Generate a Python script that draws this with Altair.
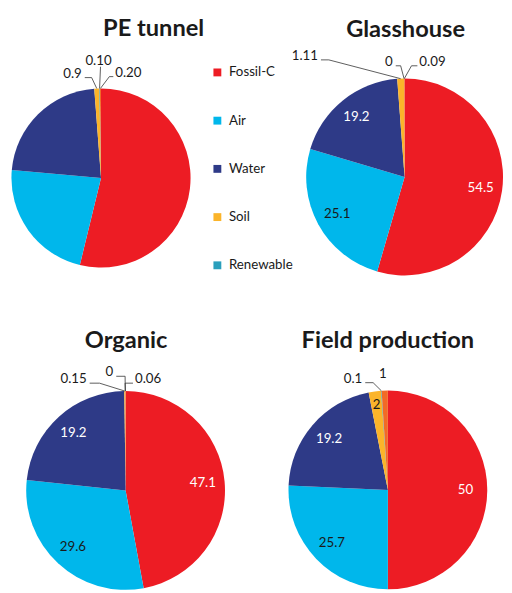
import math
import altair as alt
import pandas as pd

# ---------------- data ----------------
categories = ["Fossil-C", "Air", "Water", "Soil", "Renewable", "Other"]
legend_categories = ["Fossil-C", "Air", "Water", "Soil", "Renewable"]
colors = ["#ED1C24", "#00B7EB", "#2E3A87", "#FBB42A", "#2A9FBC", "#F26A26"]

pie_titles = ["PE tunnel", "Glasshouse", "Organic", "Field production"]

# slice sizes as drawn in the picture; labels as printed on the picture
pe_values = [53.8, 22.6, 22.4, 0.9, 0.10, 0.20]
pe_labels = ["", "", "", "0.9", "0.10", "0.20"]

glass_values = [54.5, 25.1, 19.2, 1.11, 0, 0.09]
glass_labels = ["54.5", "25.1", "19.2", "1.11", "0", "0.09"]

organic_values = [47.1, 29.6, 23.1, 0.15, 0, 0.06]
organic_labels = ["47.1", "29.6", "19.2", "0.15", "0", "0.06"]

field_values = [50, 25.7, 21.2, 2, 0.1, 1]
field_labels = ["50", "25.7", "19.2", "2", "0.1", "1"]

pies = [
    (pie_titles[0], pe_values, pe_labels),
    (pie_titles[1], glass_values, glass_labels),
    (pie_titles[2], organic_values, organic_labels),
    (pie_titles[3], field_values, field_labels),
]

# ---------------- layout (pixels, chart coordinates) ----------------
LAYOUT = {
    "PE tunnel": dict(cx=94.5, cy=168, r=91, tx=148, ty=24),
    "Glasshouse": dict(cx=403, cy=167, r=100, tx=404, ty=25),
    "Organic": dict(cx=119.5, cy=485.5, r=101, tx=120, ty=341),
    "Field production": dict(cx=386, cy=485, r=101, tx=386, ty=341),
}
# outside label placement relative to pie centre: (dx, dy, align, elbow, leader)
OUTSIDE = {
    "PE tunnel": {"Soil": (-19.5, -106, "right", 7, True),
                  "Renewable": (-2.5, -119, "center", 0, True),
                  "Other": (14.5, -107, "left", 4, True)},
    "Glasshouse": {"Soil": (-88, -123, "right", 8, True),
                   "Renewable": (-12, -117, "right", 5, True),
                   "Other": (15, -117, "left", 6, True)},
    "Organic": {"Soil": (-39.5, -113, "right", 10, True),
                "Renewable": (-12.5, -120, "right", 9, True),
                "Other": (9.5, -113, "left", 8, True)},
    "Field production": {"Renewable": (-26, -113, "right", 8, True),
                         "Other": (-5, -118, "center", 0, False)},
}

FONT = "Lato"
TXT = "#1a1a1a"

color_enc = alt.Color(
    "category:N",
    title=None,
    scale=alt.Scale(domain=categories, range=colors),
    legend=alt.Legend(
        orient="none", legendX=206, legendY=54, values=legend_categories,
        symbolType="square", symbolSize=64, symbolStrokeWidth=0,
        labelFont=FONT, labelFontSize=13.5, labelColor=TXT,
        rowPadding=34, labelOffset=5, padding=0,
    ),
)

layers = []
out_rows, lead_rows = [], []
lid = 0
for title, vals, labs in pies:
    L = LAYOUT[title]
    total = float(sum(vals))
    cum = 0.0
    rows = []
    for i, (cat, v, lab) in enumerate(zip(categories, vals, labs)):
        mid = (cum + v / 2.0) / total
        cum += v
        share = v / total
        big, small = "", ""
        place = OUTSIDE[title].get(cat)
        if place is None and lab:
            if share >= 0.1:
                big = lab
            else:
                small = lab
        rows.append(dict(category=cat, value=v, idx=i, big=big, small=small))
        if place is not None:
            dx, dy, align, elbow, leader = place
            tx, ty = L["cx"] + dx, L["cy"] + dy
            out_rows.append(dict(x=tx, y=ty, text=lab, align=align))
            if leader:
                ang = 2 * math.pi * mid
                ex = L["cx"] + L["r"] * math.sin(ang)
                ey = L["cy"] - L["r"] * math.cos(ang)
                if align == "right":
                    sx, sy = tx + 3, ty + 4
                    pts = [(sx, sy), (sx + elbow, sy), (ex, ey)]
                elif align == "left":
                    sx, sy = tx - 2, ty + 4
                    pts = [(sx, sy), (sx - elbow, sy), (ex, ey)]
                else:
                    sx, sy = tx + 2, ty + 6
                    pts = [(sx, sy), (ex, ey)]
                for k, (px, py) in enumerate(pts):
                    lead_rows.append(dict(x=px, y=py, lid=lid, pt=k))
                lid += 1
    df = pd.DataFrame(rows)
    base = alt.Chart(df)
    theta = alt.Theta("value:Q", stack="normalize")
    order = alt.Order("idx:Q", sort="ascending")
    arc = base.mark_arc(radius=L["r"]).encode(
        theta=theta, color=color_enc, order=order,
        x=alt.value(L["cx"]), y=alt.value(L["cy"]),
    )
    txt_color = alt.condition(
        alt.FieldOneOfPredicate(field="category", oneOf=["Air", "Soil"]),
        alt.value(TXT), alt.value("white"))
    t_big = base.mark_text(radius=0.78 * L["r"], font=FONT, fontSize=13.5).encode(
        theta=theta, order=order, detail="category:N", text="big:N",
        color=txt_color, x=alt.value(L["cx"]), y=alt.value(L["cy"]),
    )
    t_small = base.mark_text(radius=0.86 * L["r"], font=FONT, fontSize=13.5).encode(
        theta=theta, order=order, detail="category:N", text="small:N",
        color=txt_color, x=alt.value(L["cx"]), y=alt.value(L["cy"]),
    )
    layers += [arc, t_big, t_small]

# leader lines
lead_df = pd.DataFrame(lead_rows)
layers.append(
    alt.Chart(lead_df).mark_line(color="#333333", strokeWidth=0.8).encode(
        x=alt.X("x:Q", scale=None, axis=None),
        y=alt.Y("y:Q", scale=None, axis=None),
        detail="lid:N", order="pt:Q",
    )
)

# outside labels
out_df = pd.DataFrame(out_rows)
for align in ["left", "right", "center"]:
    sub = out_df[out_df["align"] == align]
    if len(sub) == 0:
        continue
    layers.append(
        alt.Chart(sub).mark_text(align=align, baseline="middle", font=FONT,
                                 fontSize=13.5, color=TXT).encode(
            x=alt.X("x:Q", scale=None, axis=None),
            y=alt.Y("y:Q", scale=None, axis=None),
            text="text:N",
        )
    )

# titles
title_df = pd.DataFrame({
    "title": pie_titles,
    "x": [LAYOUT[t]["tx"] for t in pie_titles],
    "y": [LAYOUT[t]["ty"] for t in pie_titles],
})
layers.append(
    alt.Chart(title_df).mark_text(align="center", baseline="alphabetic", font=FONT,
                                  fontSize=24, fontWeight="bold", color=TXT).encode(
        x=alt.X("x:Q", scale=None, axis=None),
        y=alt.Y("y:Q", scale=None, axis=None),
        text="title:N",
    )
)

chart = alt.layer(*layers).properties(
    width=504, height=585, autosize="none", padding=0
).configure_view(stroke=None)

chart.save("out.html", embed_options={"renderer": "svg", "actions": False})
